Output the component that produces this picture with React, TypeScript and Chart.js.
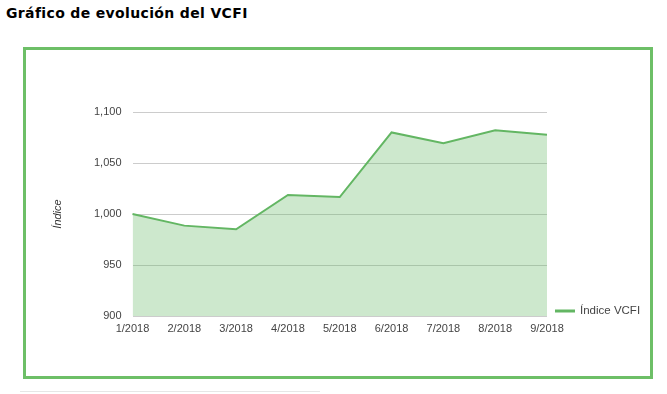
import React, { useEffect, useRef } from "react";
import { Chart, registerables } from "chart.js";

Chart.register(...registerables);

const TITLE = "Gráfico de evolución del VCFI";
const SERIES_NAME = "Índice VCFI";
const Y_TITLE = "Índice";
const categories = ["1/2018", "2/2018", "3/2018", "4/2018", "5/2018", "6/2018", "7/2018", "8/2018", "9/2018"];
const vcfiValues = [1000, 988.6, 985, 1018.6, 1016.6, 1080, 1069.4, 1082, 1077.6];
const yTicks = [900, 950, 1000, 1050, 1100];

const LINE = "#63b663";
const FILL = "rgba(99,182,99,0.32)";
const AXIS_FONT = "Arial, 'Liberation Sans', sans-serif";

const legendPlugin = {
  id: "rightLegend",
  afterDraw(chart: any) {
    const { ctx, chartArea } = chart;
    const y = chartArea.bottom - 5;
    ctx.save();
    ctx.strokeStyle = LINE;
    ctx.lineWidth = 3;
    ctx.beginPath();
    ctx.moveTo(chartArea.right + 8, y);
    ctx.lineTo(chartArea.right + 28, y);
    ctx.stroke();
    ctx.fillStyle = "#444";
    ctx.font = "11.5px " + AXIS_FONT;
    ctx.textBaseline = "middle";
    ctx.textAlign = "left";
    ctx.fillText(SERIES_NAME, chartArea.right + 33, y);
    ctx.restore();
  },
};

export default function App() {
  const ref = useRef<HTMLCanvasElement>(null);
  useEffect(() => {
    if (!ref.current) return;
    const chart = new Chart(ref.current, {
      type: "line",
      data: {
        labels: categories,
        datasets: [
          {
            label: SERIES_NAME,
            data: vcfiValues,
            borderColor: LINE,
            backgroundColor: FILL,
            borderWidth: 2,
            fill: "start",
            tension: 0,
            pointRadius: 0,
          },
        ],
      },
      options: {
        animation: false,
        responsive: false,
        maintainAspectRatio: false,
        layout: { padding: { left: 47, right: 120, top: 112, bottom: 48 } },
        plugins: { legend: { display: false }, tooltip: { enabled: false } },
        scales: {
          x: {
            grid: { display: false, drawTicks: false },
            border: { display: false },
            ticks: { padding: 6, color: "#444", font: { family: AXIS_FONT, size: 11 }, maxRotation: 0, autoSkip: false },
            afterFit: (s: any) => { s.height = 30; },
          },
          y: {
            min: 900,
            max: 1100,
            afterBuildTicks: (s: any) => { s.ticks = yTicks.map((v) => ({ value: v })); },
            grid: { color: "#cccccc", drawTicks: false },
            border: { display: false },
            ticks: {
              padding: 11,
              color: "#444",
              font: { family: AXIS_FONT, size: 11 },
              callback: (v: any) => Number(v).toLocaleString("en-US"),
            },
            title: { display: true, text: Y_TITLE, color: "#333", font: { family: AXIS_FONT, size: 11, style: "italic" } },
            afterFit: (s: any) => { s.width = 85.5; },
          },
        },
      },
      plugins: [legendPlugin],
    });
    return () => chart.destroy();
  }, []);

  return (
    <div style={{ position: "fixed", left: 0, top: 0, width: 667, height: 394, background: "#fff", overflow: "hidden" }}>
      <div style={{ position: "absolute", left: 6, top: 5, font: "bold 14px 'DejaVu Sans', Verdana, sans-serif", letterSpacing: "0.35px", color: "#000", whiteSpace: "nowrap" }}>
        {TITLE}
      </div>
      <div style={{ position: "absolute", left: 23, top: 47, width: 630, height: 332, border: "3px solid #6dbf67", boxSizing: "border-box" }} />
      <div style={{ position: "absolute", left: 20, top: 391, width: 300, height: 0, borderTop: "1px solid #e6e6e6" }} />
      <canvas ref={ref} width={667} height={394} style={{ position: "absolute", left: 0, top: 0, width: 667, height: 394 }} />
    </div>
  );
}
